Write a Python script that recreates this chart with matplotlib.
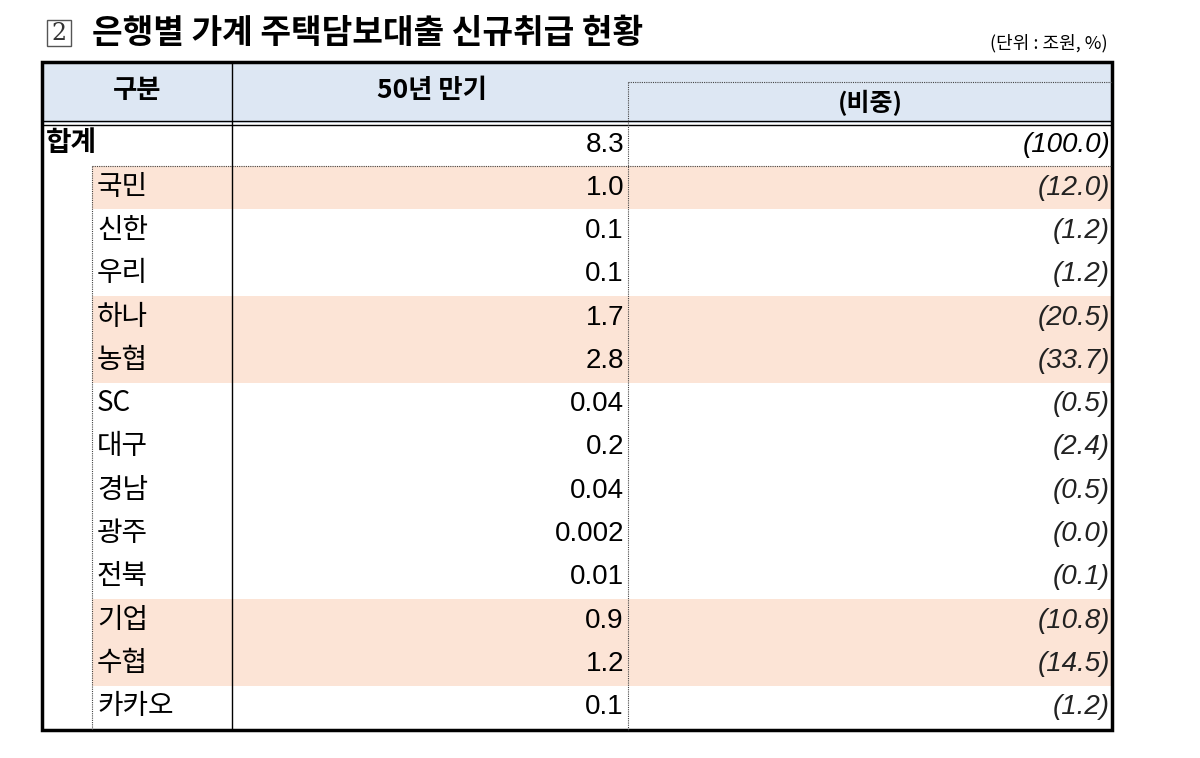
import matplotlib.pyplot as plt
from matplotlib.patches import Rectangle

plt.rcParams['font.family'] = ['Noto Sans CJK KR', 'DejaVu Sans']
NUM_FONT = ['Liberation Sans Narrow', 'Liberation Sans', 'DejaVu Sans']

banks = ["국민", "신한", "우리", "하나", "농협", "SC", "대구", "경남", "광주", "전북", "기업", "수협", "카카오"]
amounts = ["1.0", "0.1", "0.1", "1.7", "2.8", "0.04", "0.2", "0.04", "0.002", "0.01", "0.9", "1.2", "0.1"]
shares = ["(12.0)", "(1.2)", "(1.2)", "(20.5)", "(33.7)", "(0.5)", "(2.4)", "(0.5)", "(0.0)", "(0.1)", "(10.8)", "(14.5)", "(1.2)"]
highlight = ["국민", "하나", "농협", "기업", "수협"]
total_amount = "8.3"
total_share = "(100.0)"

fig = plt.figure(figsize=(12, 7.58), dpi=100)
ax = fig.add_axes([0, 0, 1, 1])
ax.set_xlim(0, 1200)
ax.set_ylim(758, 0)
ax.axis("off")

L, R = 42, 1112
C1, C2, C3 = 92, 232, 628
top, hdr = 62, 123
row_h = 43.3
body0 = 166

# title
ax.add_patch(Rectangle((47, 20), 24, 26, fill=False, lw=1, ec="#555"))
ax.text(59, 34, "2", ha="center", va="center", fontsize=17, family="DejaVu Serif", color="#333")
ax.text(92, 33, "은행별 가계 주택담보대출 신규취급 현황", ha="left", va="center",
        fontsize=24, fontweight="bold")
ax.text(1108, 43, "(단위 : 조원, %)", ha="right", va="center", fontsize=13)

# header
ax.add_patch(Rectangle((L, top), R - L, hdr - top, color="#dde7f3", lw=0))
ax.text((L + C2) / 2, 91, "구분", ha="center", va="center", fontsize=19, fontweight="bold")
ax.text((C2 + C3 + 4) / 2, 91, "50년 만기", ha="center", va="center", fontsize=19, fontweight="bold")
ax.text((C3 + R) / 2, 103, "(비중)", ha="center", va="center", fontsize=18, fontweight="bold")
ax.plot([C3, R], [82, 82], color="#444", lw=0.8, ls=(0, (1, 1)))
ax.plot([L, R], [hdr - 2, hdr - 2], color="black", lw=1)
ax.plot([L, R], [hdr + 2, hdr + 2], color="black", lw=1)

# total row
ax.text(L + 4, 143, "합계", ha="left", va="center", fontsize=20, fontweight="bold")
ax.text(C3 - 4, 145, total_amount, ha="right", va="center", fontsize=20, family=NUM_FONT)
ax.text(R - 2, 145, total_share, ha="right", va="center", fontsize=20, style="italic", family=NUM_FONT)
ax.plot([C1, R], [body0, body0], color="#444", lw=0.8, ls=(0, (1, 1)))

for i, (b, a, s) in enumerate(zip(banks, amounts, shares)):
    y0 = body0 + i * row_h
    yc = y0 + row_h / 2
    if b in highlight:
        ax.add_patch(Rectangle((C1, y0), R - C1, row_h, color="#fce4d6", lw=0))
    ax.text(C1 + 5, yc - 1, b, ha="left", va="center", fontsize=20)
    ax.text(C3 - 4, yc, a, ha="right", va="center", fontsize=20, family=NUM_FONT)
    ax.text(R - 2, yc, s, ha="right", va="center", fontsize=20, style="italic",
            family=NUM_FONT, color="#222")

bottom = 730
ax.plot([C1, C1], [body0, bottom], color="#444", lw=0.8, ls=(0, (1, 1)))
ax.plot([C2, C2], [top, bottom], color="black", lw=1)
ax.plot([C3, C3], [82, bottom], color="#444", lw=0.8, ls=(0, (1, 1)))
ax.add_patch(Rectangle((L, top), R - L, bottom - top, fill=False, ec="black", lw=2.5))

fig.savefig("out.png", dpi=100)
